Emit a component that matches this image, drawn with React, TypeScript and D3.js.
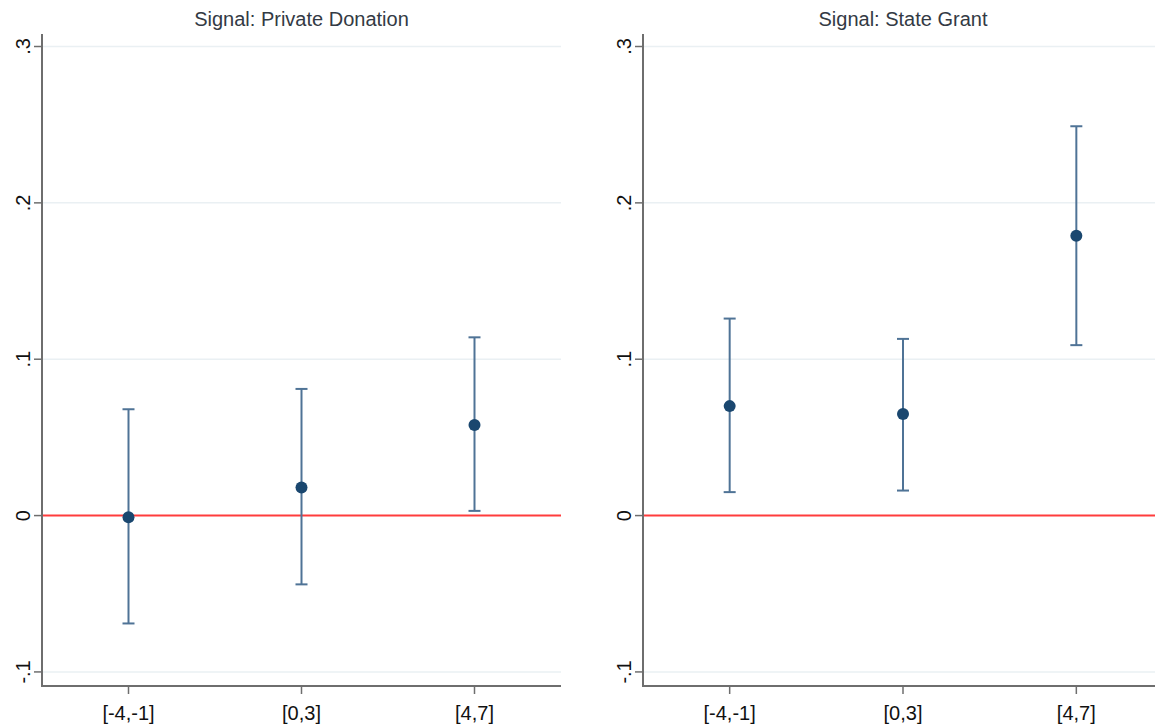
import React from 'react';
import * as d3 from 'd3';

const categories = ['[-4,-1]', '[0,3]', '[4,7]'];
const yTicks = [-0.1, 0, 0.1, 0.2, 0.3];
const yTickLabels = ['-.1', '0', '.1', '.2', '.3'];

const panelTitles = ['Signal: Private Donation', 'Signal: State Grant'];
const privateEstimate = [-0.001, 0.018, 0.058];
const privateLower = [-0.069, -0.044, 0.003];
const privateUpper = [0.068, 0.081, 0.114];
const stateEstimate = [0.070, 0.065, 0.179];
const stateLower = [0.015, 0.016, 0.109];
const stateUpper = [0.126, 0.113, 0.249];

const W = 1155, H = 724;
const top = 34, bottom = 686;
const panels = [
  { title: panelTitles[0], left: 42, right: 561, est: privateEstimate, lo: privateLower, hi: privateUpper },
  { title: panelTitles[1], left: 643, right: 1163, est: stateEstimate, lo: stateLower, hi: stateUpper },
];

const y = d3.scaleLinear().domain([-0.109, 0.308]).range([bottom, top]);

const axisColor = '#6e6e6e';
const gridColor = '#eaf0f3';
const ciColor = '#4f7396';
const dotColor = '#1a476f';

function Panel({ p }: { p: typeof panels[0] }) {
  const x = d3.scalePoint<string>().domain(categories).range([p.left, p.right]).padding(0.5);
  const mid = (p.left + p.right) / 2;
  return (
    <g>
      {/* grid */}
      {yTicks.filter(t => t !== 0).map(t => (
        <line key={t} x1={p.left} x2={p.right} y1={y(t)} y2={y(t)} stroke={gridColor} strokeWidth={1.5} />
      ))}
      {/* reference line at zero */}
      <line x1={p.left} x2={p.right} y1={y(0)} y2={y(0)} stroke="#ff3c3c" strokeWidth={2} />
      {/* y axis */}
      <line x1={p.left} x2={p.left} y1={top} y2={bottom} stroke={axisColor} strokeWidth={2} />
      {yTicks.map((t, i) => (
        <g key={t}>
          <line x1={p.left - 8} x2={p.left} y1={y(t)} y2={y(t)} stroke={axisColor} strokeWidth={1.5} />
          <text transform={`translate(${p.left - 19},${y(t)}) rotate(-90)`} textAnchor="middle"
            dy="0.35em" fontSize={20} fill="#111">{yTickLabels[i]}</text>
        </g>
      ))}
      {/* x axis */}
      <line x1={p.left - 1} x2={p.right} y1={bottom} y2={bottom} stroke={axisColor} strokeWidth={2} />
      {categories.map(c => (
        <g key={c}>
          <line x1={x(c)} x2={x(c)} y1={bottom} y2={bottom + 8} stroke={axisColor} strokeWidth={1.5} />
          <text x={x(c)} y={bottom + 34} textAnchor="middle" fontSize={20} fill="#111">{c}</text>
        </g>
      ))}
      {/* error bars */}
      {categories.map((c, i) => {
        const cx = x(c) as number;
        return (
          <g key={c}>
            <line x1={cx} x2={cx} y1={y(p.lo[i])} y2={y(p.hi[i])} stroke={ciColor} strokeWidth={2} />
            <line x1={cx - 6} x2={cx + 6} y1={y(p.lo[i])} y2={y(p.lo[i])} stroke={ciColor} strokeWidth={2} />
            <line x1={cx - 6} x2={cx + 6} y1={y(p.hi[i])} y2={y(p.hi[i])} stroke={ciColor} strokeWidth={2} />
            <circle cx={cx} cy={y(p.est[i])} r={6} fill={dotColor} />
          </g>
        );
      })}
      <text x={mid} y={26} textAnchor="middle" fontSize={20} fill="#333a44">{p.title}</text>
    </g>
  );
}

export default function App() {
  return (
    <svg width={W} height={H} style={{ position: 'absolute', left: 0, top: 0, background: '#fff' }}
      fontFamily="'Liberation Sans', Arial, sans-serif">
      {panels.map(p => <Panel key={p.title} p={p} />)}
    </svg>
  );
}
